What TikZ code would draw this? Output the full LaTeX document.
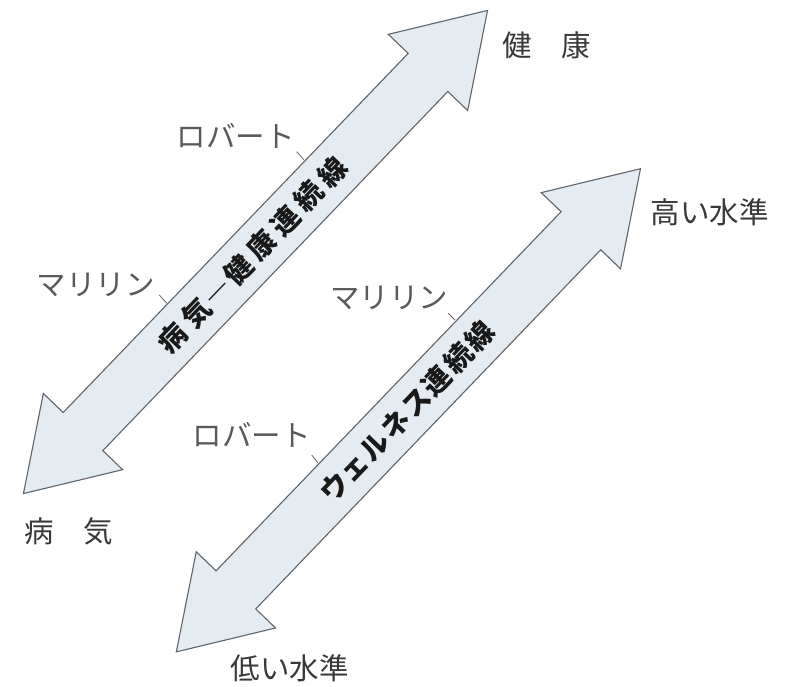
\documentclass[tikz,border=0pt]{standalone}
\usepackage{fontspec}
\setmainfont{Noto Sans CJK JP}
\definecolor{arrowfill}{RGB}{228,236,241}
\definecolor{arrowline}{RGB}{95,100,105}
\newcommand{\kk}[1]{\kern#1pt}
\begin{document}
\begin{tikzpicture}[x=1pt,y=-1pt,
  arrowshape/.style={draw=arrowline, fill=arrowfill, line width=1.1pt, line join=miter},
  arrowtext/.style={font=\fontsize{28}{32}\selectfont\bfseries, text=black!90, inner sep=0pt},
  endlabel/.style={font=\fontsize{29.5}{32}\selectfont, text=black!78, inner sep=0pt},
  person/.style={font=\fontsize{29.5}{32}\selectfont, text=black!65, inner sep=0pt},
  ticklink/.style={draw=black!60, line width=0.8pt}]
\useasboundingbox (0,0) rectangle (787,687);

% Arrow 1: illness -- health continuum
\begin{scope}[shift={(255.5,252)}, rotate=46.15]
  \draw[arrowshape] (335,0) -- (249,55) -- (249,27.5) -- (-249,27.5) -- (-249,55)
    -- (-335,0) -- (-249,-55) -- (-249,-27.5) -- (249,-27.5) -- (249,-55) -- cycle;
  \node[arrowtext, rotate=46.15] (t1) at (-4,0)
    {病\kk{6}気\kk{2}―\kk{2}健\kk{6}康\kk{6}連\kk{6}続\kk{6}線};
\end{scope}

% Arrow 2: wellness continuum
\begin{scope}[shift={(408.4,410.3)}, rotate=46.15]
  \draw[arrowshape] (335,0) -- (249,55) -- (249,27.5) -- (-249,27.5) -- (-249,55)
    -- (-335,0) -- (-249,-55) -- (-249,-27.5) -- (249,-27.5) -- (249,-55) -- cycle;
  \node[arrowtext, rotate=46.15] (t2) at (-2,0)
    {ウ\kk{0}ェ\kk{2}ル\kk{2}ネ\kk{2}ス\kk{2}連\kk{3}続\kk{3}線};
\end{scope}

% End labels
\node[endlabel] (kenko) at (546.5,45) {健　康};
\node[endlabel] (byoki) at (68.5,531) {病　気};
\node[endlabel] (takai) at (709.5,212.5) {高い水準};
\node[endlabel] (hikui) at (289.5,668.5) {低い水準};

% Person labels
\node[person] (rob1) at (235.5,136) {ロバート};
\node[person] (mar1) at (95.5,285) {マリリン};
\node[person] (mar2) at (389,297.5) {マリリン};
\node[person] (rob2) at (251.5,435) {ロバート};

% Ticks
\coordinate (r1a) at (296.7,151.7); \coordinate (r1b) at (304,160);
\coordinate (m1a) at (159.3,295);   \coordinate (m1b) at (166.7,303.3);
\coordinate (m2a) at (448.3,313.3); \coordinate (m2b) at (455,320);
\coordinate (r2a) at (311.7,455);   \coordinate (r2b) at (318.3,463.3);
\draw[ticklink] (r1a) -- (r1b);
\draw[ticklink] (m1a) -- (m1b);
\draw[ticklink] (m2a) -- (m2b);
\draw[ticklink] (r2a) -- (r2b);
\end{tikzpicture}
\end{document}
